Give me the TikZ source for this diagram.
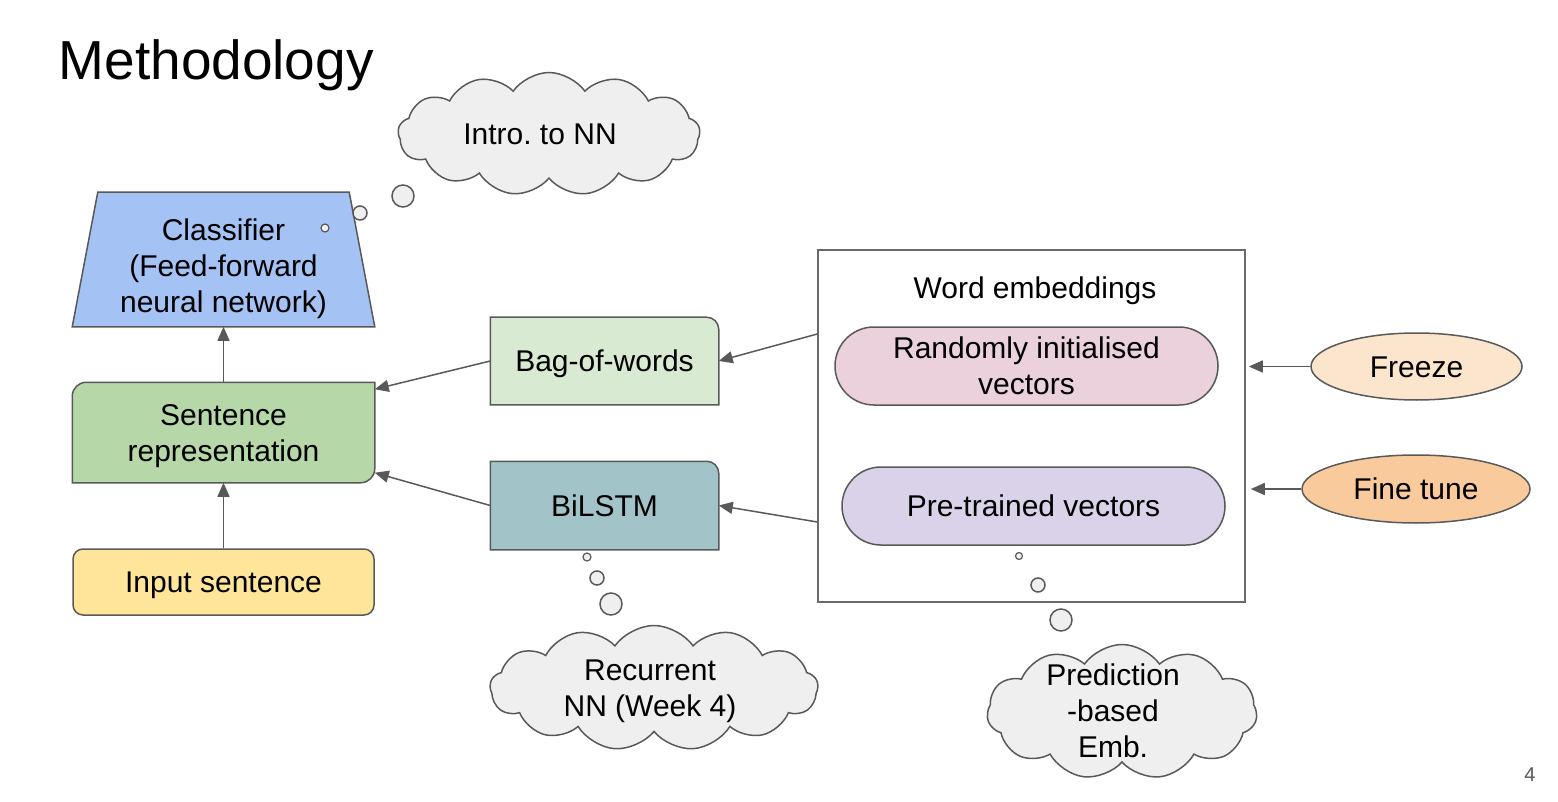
\documentclass[tikz,border=0pt]{standalone}
\usepackage{fontspec}
\setmainfont{Liberation Sans}
\usetikzlibrary{arrows.meta,shapes.geometric,shapes.symbols,backgrounds}

\definecolor{linegray}{HTML}{595959}
\definecolor{cloudgray}{HTML}{EFEFEF}
\definecolor{clfblue}{HTML}{A4C2F4}
\definecolor{sentgreen}{HTML}{B6D7A8}
\definecolor{inputyellow}{HTML}{FFE599}
\definecolor{bowgreen}{HTML}{D9EAD3}
\definecolor{lstmteal}{HTML}{A2C4C9}
\definecolor{randpink}{HTML}{EAD1DC}
\definecolor{prepurple}{HTML}{D9D2E9}
\definecolor{freezeorange}{HTML}{FCE5CD}
\definecolor{tuneorange}{HTML}{F9CB9C}

\newcommand{\linestrut}{\rule[-7pt]{0pt}{35.5pt}}

\begin{document}
\begin{tikzpicture}[
        x=1pt, y=-1pt,
        every node/.style={font=\fontsize{30}{36}\selectfont, align=center, inner sep=0pt},
        txt/.style={execute at begin node=\linestrut, execute at end node=\linestrut},
        every path/.style={line width=1.5pt},
        link/.style={draw=linegray, -{Triangle[length=14pt,width=12pt]}},
        shapebox/.style={draw=linegray, line width=1.5pt},
        pill/.style={txt, shapebox, rounded corners=39pt, minimum width=383pt, minimum height=78pt},
        oval/.style={txt, shapebox, ellipse},
        thought/.style={cloud, cloud puffs=13, cloud puff arc=110, aspect=2.4, draw=linegray, fill=cloudgray},
        bubble/.style={circle, draw=linegray, fill=cloudgray}
    ]
    \useasboundingbox (0,0) rectangle (1558,802);

    \node [anchor=base west, font=\fontsize{55}{60}\selectfont] (title) at (58,80) {Methodology};

    % left column
    \node [txt, minimum width=301pt, minimum height=133pt] (clf) at (223.5,266) {\linestrut Classifier\\(Feed-forward\\neural network)};
    \node [txt, minimum width=301pt, minimum height=99pt] (sent) at (223.5,432.5) {\linestrut Sentence\\representation};
    \node [txt, shapebox, fill=inputyellow, rounded corners=10pt, minimum width=301pt, minimum height=66pt] (inp) at (223.5,582) {Input sentence};

    % middle column
    \node [txt, minimum width=227pt, minimum height=86pt] (bow) at (604.5,361) {Bag-of-words};
    \node [txt, minimum width=227pt, minimum height=87pt] (lstm) at (604.5,505.5) {BiLSTM};

    % word embeddings
    \node [draw=linegray!90, minimum width=427pt, minimum height=352pt] (emb) at (1031.5,426) {};
    \node [txt] (embt) at (1035,288) {Word embeddings};
    \node [pill, fill=randpink] (rand) at (1026.5,366) {\linestrut Randomly initialised\\vectors};
    \node [pill, fill=prepurple] (pre) at (1033.5,506) {Pre-trained vectors};

    \node [oval, fill=freezeorange, minimum width=211pt, minimum height=67pt] (frz) at (1416.5,366.5) {Freeze};
    \node [oval, fill=tuneorange, minimum width=228pt, minimum height=68pt] (tune) at (1416,489) {Fine tune};

    % thought clouds
    \node [thought, minimum width=302pt, minimum height=123pt] (c1) at (549,134) {};
    \node [txt] (c1t) at (540,134) {Intro.\ to NN};
    \node [bubble, minimum size=22pt] (c1a) at (403,196) {};
    \node [bubble, minimum size=14pt] (c1b) at (360,213) {};
    \node [bubble, minimum size=8pt, line width=1.2pt] (c1c) at (325,228) {};

    \node [thought, minimum width=328pt, minimum height=125pt] (c2) at (654,688) {};
    \node [txt] (c2t) at (650,688) {\linestrut Recurrent\\NN (Week 4)};
    \node [bubble, minimum size=8pt, line width=1.2pt] (c2a) at (587,557) {};
    \node [bubble, minimum size=14pt] (c2b) at (597,578) {};
    \node [bubble, minimum size=22pt] (c2c) at (611,604) {};

    \node [thought, cloud puffs=11, aspect=2, minimum width=270pt, minimum height=135pt] (c3) at (1122,712) {};
    \node [txt] (c3t) at (1113,711) {\linestrut Prediction\\-based\\Emb.};
    \node [bubble, minimum size=7pt, line width=1.2pt] (c3a) at (1019,556) {};
    \node [bubble, minimum size=14pt] (c3b) at (1038,585) {};
    \node [bubble, minimum size=22pt] (c3c) at (1061,620) {};

    \node [font=\fontsize{20}{24}\selectfont, text=linegray] (pg) at (1530,775) {4};

    % shapes behind the text
    \begin{scope}[on background layer]
        \draw [shapebox, fill=clfblue] ([yshift=6.5pt]clf.south west) -- ([yshift=6.5pt]clf.south east)
            -- ([xshift=-25.5pt,yshift=6.5pt]clf.north east) -- ([xshift=25.5pt,yshift=6.5pt]clf.north west) -- cycle;
        \draw [shapebox, fill=sentgreen] (sent.south west)
            [rounded corners=14pt] -- (sent.north west)
            [sharp corners] -- (sent.north east)
            [rounded corners=14pt] -- (sent.south east)
            [sharp corners] -- cycle;
        \draw [shapebox, fill=bowgreen] (bow.south west) -- (bow.north west)
            [rounded corners=12pt] -- (bow.north east) [sharp corners] -- (bow.south east) -- cycle;
        \draw [shapebox, fill=lstmteal] (lstm.south west) -- (lstm.north west)
            [rounded corners=12pt] -- (lstm.north east) [sharp corners] -- (lstm.south east) -- cycle;
    \end{scope}

    % connectors
    \draw [link] (inp) -- (sent);
    \draw [link] (sent) -- ([yshift=6.5pt]clf.south);
    \draw [link] (bow.west) -- ([yshift=-7pt]sent.north east);
    \draw [link] (lstm.west) -- ([yshift=10pt]sent.south east);
    \draw [link] ([yshift=92pt]emb.west) -- (bow.east);
    \draw [link] ([yshift=-96pt]emb.west) -- (lstm.east);
    \draw [link, shorten >=3pt] (frz.west) -- (frz.west -| emb.east);
    \draw [link, shorten >=5pt] (tune.west) -- (tune.west -| emb.east);
\end{tikzpicture}
\end{document}
